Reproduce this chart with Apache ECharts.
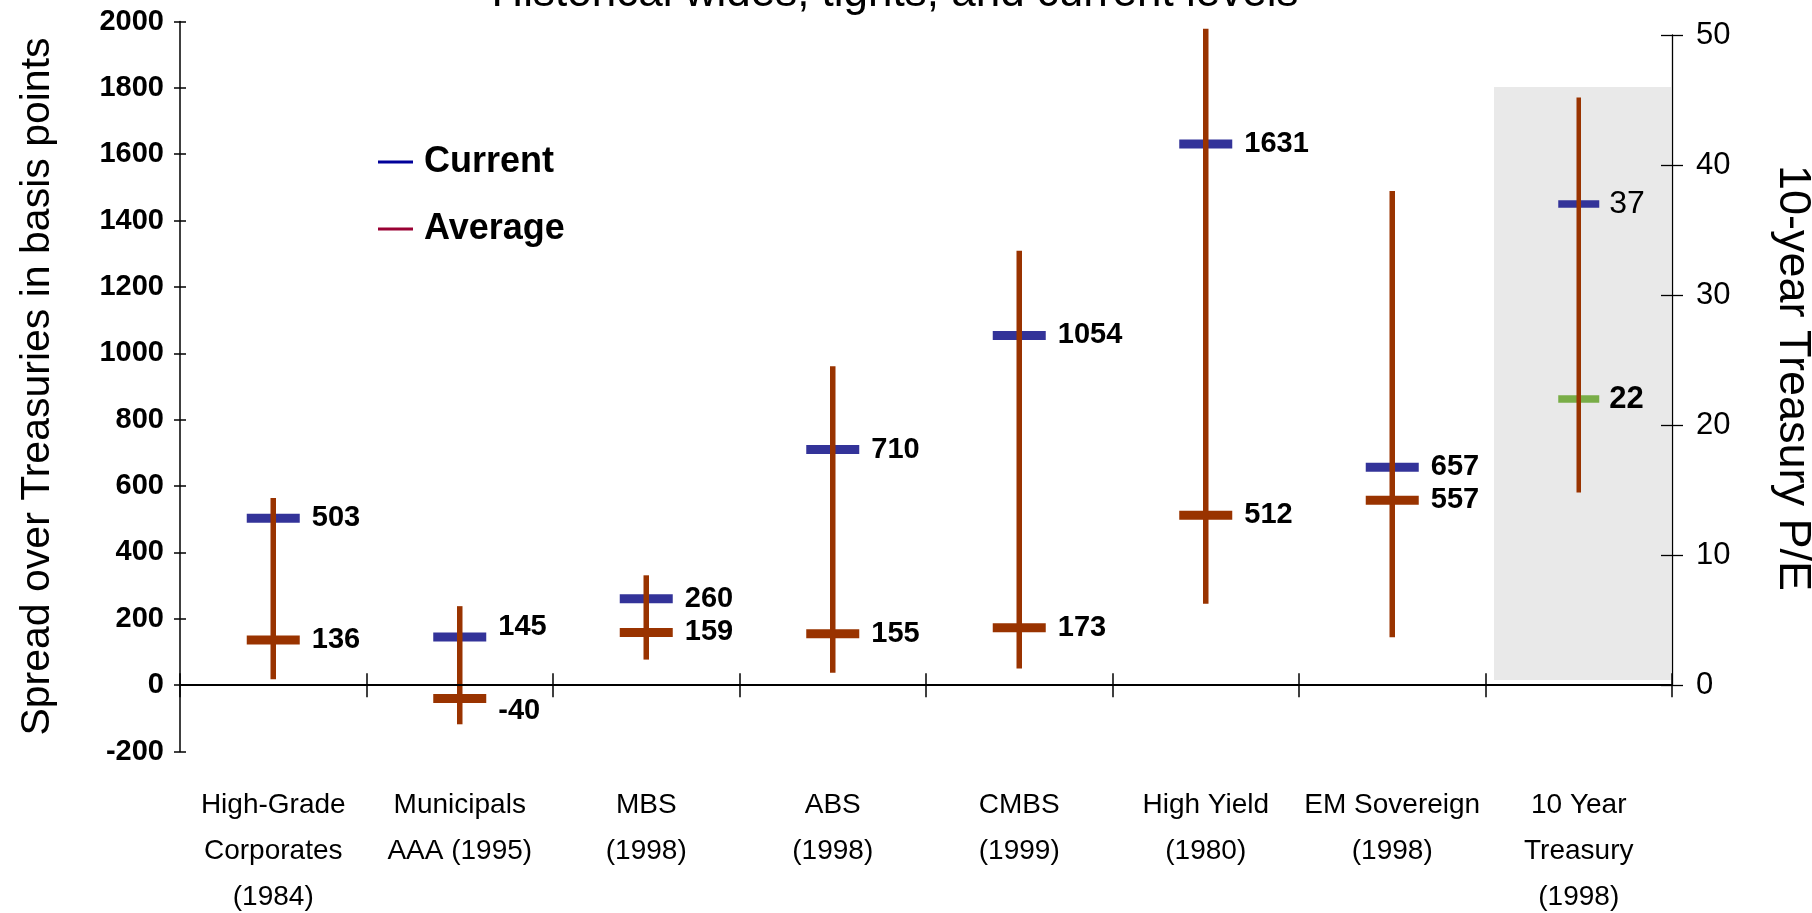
<!DOCTYPE html>
<html><head><meta charset="utf-8">
<script src="https://cdn.jsdelivr.net/npm/echarts@6/dist/echarts.min.js"></script>
<style>html,body{margin:0;padding:0;background:#fff;} #c{width:1812px;height:913px;}</style>
</head><body><div id="c"></div>
<script>
// ---- data ----
const categories = ['High-Grade\nCorporates\n(1984)', 'Municipals\nAAA (1995)', 'MBS\n(1998)', 'ABS\n(1998)', 'CMBS\n(1999)', 'High Yield\n(1980)', 'EM Sovereign\n(1998)', '10 Year\nTreasury\n(1998)'];
const spreadHigh = [564, 238, 331, 961, 1309, 1978, 1489];
const spreadLow = [18, -118, 77, 37, 50, 245, 144];
const spreadCurrent = [503, 145, 260, 710, 1054, 1631, 657];
const spreadAverage = [136, -40, 159, 155, 173, 512, 557];
const treasuryIndex = 7;
const peHigh = [45.2];
const peLow = [14.8];
const peCurrent = [37];
const peAverage = [22];
const peShadeTop = [46];
const leftAxisTicks = { min: -200, max: 2000, interval: 200 };
const rightAxisTicks = { min: 0, max: 50, interval: 10 };

// ---- styles ----
const NARROW = '"Liberation Sans", Arial, sans-serif';
const SANS = '"Liberation Sans", Arial, sans-serif';
const RUST = '#993300', BLUE = '#333399', GREEN = '#79ad47';
const currentNudge = { 1: [0, -10] };
const averageNudge = { 1: [0, 13] };

function whiskerItem(w) {
  return function (params, api) {
    const x = api.value(0);
    const lo = api.coord([x, api.value(1)]);
    const hi = api.coord([x, api.value(2)]);
    return { type: 'rect', shape: { x: lo[0] - w / 2, y: hi[1], width: w, height: lo[1] - hi[1] }, style: { fill: RUST } };
  };
}

const chart = echarts.init(document.getElementById('c'), null, { renderer: 'canvas' });
const option = {
  animation: false,
  backgroundColor: '#fff',
  title: {
    text: 'Historical wides, tights, and current levels',
    left: 895, top: -28, textAlign: 'center', padding: 0,
    textStyle: { fontFamily: SANS, fontSize: 44, fontWeight: 'normal', color: '#000' }
  },
  legend: {
    orient: 'vertical', left: 378, top: 144, padding: 0, icon: 'rect', itemWidth: 35, itemHeight: 3, itemGap: 31,
    selectedMode: false,
    data: [{ name: 'Current', itemStyle: { color: '#000099' } }, { name: 'Average', itemStyle: { color: '#990033' } }],
    textStyle: { fontFamily: SANS, fontSize: 36, fontWeight: 'bold', color: '#000', padding: [0, 0, 0, 6] }
  },
  grid: [
    { left: 180, right: 140, top: 21.5, height: 730, outerBoundsMode: 'none', containLabel: false },
    { left: 180, right: 140, top: 35, height: 650, outerBoundsMode: 'none', containLabel: false }
  ],
  xAxis: [
    { gridIndex: 0, type: 'category', data: categories, z: 10,
      axisLine: { onZero: true, onZeroAxisIndex: 0, lineStyle: { color: '#000', width: 2 } },
      axisTick: { show: true, interval: 0, length: 12, lineStyle: { color: '#000', width: 1.5 } },
      axisLabel: { interval: 0, margin: 31, fontFamily: NARROW, fontSize: 28, lineHeight: 46, color: '#000' },
      splitLine: { show: false } },
    { gridIndex: 0, type: 'category', data: categories, position: 'bottom', z: 10,
      axisLine: { show: false, onZero: true, onZeroAxisIndex: 0 },
      axisTick: { show: true, inside: true, interval: 0, length: 12, lineStyle: { color: '#000', width: 1.5 } },
      axisLabel: { show: false }, splitLine: { show: false } },
    { gridIndex: 1, type: 'category', data: categories, show: false }
  ],
  yAxis: [
    { gridIndex: 0, type: 'value', position: 'left', z: 10, min: leftAxisTicks.min, max: leftAxisTicks.max, interval: leftAxisTicks.interval,
      axisLine: { show: true, onZero: false, lineStyle: { color: '#000', width: 1.5 } },
      axisTick: { show: true, length: 6, lineStyle: { color: '#000', width: 1.5 } },
      axisLabel: { margin: 16, fontFamily: NARROW, fontSize: 29, fontWeight: 'bold', color: '#000', formatter: v => String(v) },
      splitLine: { show: false },
      name: 'Spread over Treasuries in basis points', nameLocation: 'middle', nameGap: 122, nameRotate: 90,
      nameTextStyle: { fontFamily: SANS, fontSize: 41, color: '#000' } },
    { gridIndex: 0, type: 'value', position: 'left', z: 10, min: leftAxisTicks.min, max: leftAxisTicks.max, interval: leftAxisTicks.interval,
      axisLine: { show: false, onZero: false }, axisTick: { show: true, inside: true, length: 6, lineStyle: { color: '#000', width: 1.5 } },
      axisLabel: { show: false }, splitLine: { show: false } },
    { gridIndex: 1, type: 'value', position: 'right', z: 10, min: rightAxisTicks.min, max: rightAxisTicks.max, interval: rightAxisTicks.interval,
      axisLine: { show: true, onZero: false, lineStyle: { color: '#000', width: 1.3 } },
      axisTick: { show: true, length: 11, lineStyle: { color: '#000', width: 1.3 } },
      axisLabel: { margin: 24, fontFamily: NARROW, fontSize: 31, color: '#000', formatter: v => String(v) },
      splitLine: { show: false },
      name: '10-year Treasury P/E', nameLocation: 'middle', nameGap: 98, nameRotate: -90,
      nameTextStyle: { fontFamily: SANS, fontSize: 45, color: '#000', padding: [0, 0, 0, 36] } },
    { gridIndex: 1, type: 'value', position: 'right', z: 10, min: rightAxisTicks.min, max: rightAxisTicks.max, interval: rightAxisTicks.interval,
      axisLine: { show: false, onZero: false }, axisTick: { show: true, inside: true, length: 11, lineStyle: { color: '#000', width: 1.3 } },
      axisLabel: { show: false }, splitLine: { show: false } }
  ],
  series: [
    { type: 'custom', name: 'shade', xAxisIndex: 2, yAxisIndex: 2, z: 0, silent: true,
      encode: { x: 0, y: 1 },
      data: peShadeTop.map(v => [treasuryIndex, v]),
      renderItem: function (params, api) {
        const top = api.coord([api.value(0), api.value(1)]);
        const bot = api.coord([api.value(0), 0]);
        const bw = api.size([1, 0])[0];
        return { type: 'rect', shape: { x: top[0] - bw / 2 + 8.5, y: top[1], width: bw - 9.5, height: bot[1] - top[1] - 5 }, style: { fill: '#e9e9e9' } };
      } },
    { type: 'scatter', name: 'Average', xAxisIndex: 0, yAxisIndex: 0, z: 3,
      symbol: 'rect', symbolSize: [53, 9], itemStyle: { color: RUST, opacity: 1 },
      data: spreadAverage.map((v, i) => ({ value: [i, v], label: averageNudge[i] ? { offset: averageNudge[i] } : undefined })),
      label: { show: true, position: 'right', distance: 12, formatter: p => p.value[1], fontFamily: NARROW, fontSize: 29, fontWeight: 'bold', color: '#000' } },
    { type: 'scatter', name: 'Current', xAxisIndex: 0, yAxisIndex: 0, z: 3,
      symbol: 'rect', symbolSize: [53, 9], itemStyle: { color: BLUE, opacity: 1 },
      data: spreadCurrent.map((v, i) => ({ value: [i, v], label: currentNudge[i] ? { offset: currentNudge[i] } : undefined })),
      label: { show: true, position: 'right', distance: 12, formatter: p => p.value[1], fontFamily: NARROW, fontSize: 29, fontWeight: 'bold', color: '#000' } },
    { type: 'custom', name: 'range', xAxisIndex: 0, yAxisIndex: 0, z: 5, silent: true,
      encode: { x: 0, y: [1, 2] },
      data: spreadLow.map((v, i) => [i, v, spreadHigh[i]]),
      renderItem: whiskerItem(5.5) },
    { type: 'scatter', name: 'Current', xAxisIndex: 2, yAxisIndex: 2, z: 3,
      symbol: 'rect', symbolSize: [41, 7.5], itemStyle: { color: BLUE, opacity: 1 },
      data: peCurrent.map(v => [treasuryIndex, v]),
      label: { show: true, position: 'right', distance: 10, formatter: p => p.value[1], fontFamily: NARROW, fontSize: 32, color: '#000' } },
    { type: 'scatter', name: 'P/E average', xAxisIndex: 2, yAxisIndex: 2, z: 3,
      symbol: 'rect', symbolSize: [41, 7.5], itemStyle: { color: GREEN, opacity: 1 },
      data: peAverage.map(v => [treasuryIndex, v]),
      label: { show: true, position: 'right', distance: 10, formatter: p => p.value[1], fontFamily: NARROW, fontSize: 31, fontWeight: 'bold', color: '#000' } },
    { type: 'custom', name: 'pe range', xAxisIndex: 2, yAxisIndex: 2, z: 5, silent: true,
      encode: { x: 0, y: [1, 2] },
      data: peLow.map((v, i) => [treasuryIndex, v, peHigh[i]]),
      renderItem: whiskerItem(4.5) }
  ]
};
chart.setOption(option);
</script>
</body></html>
